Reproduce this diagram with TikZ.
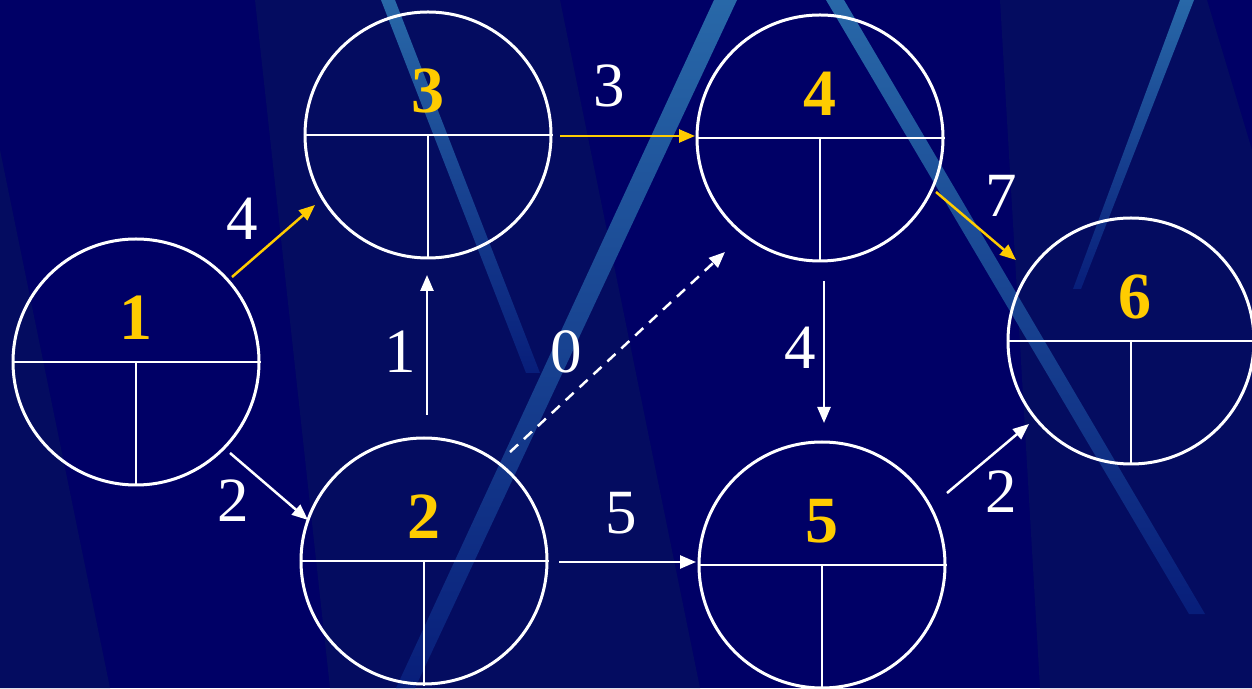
\documentclass[tikz,border=0pt]{standalone}
\usepackage{fontspec}
\setmainfont{Liberation Serif}
\usetikzlibrary{arrows.meta,calc}
\definecolor{navy}{RGB}{0,0,102}
\definecolor{band}{RGB}{4,12,96}
\definecolor{streak}{RGB}{40,104,168}
\definecolor{streakdim}{RGB}{8,30,122}
\definecolor{ylw}{RGB}{255,204,0}
\begin{document}
\begin{tikzpicture}[x=1pt,y=1pt,
  cnode/.style={circle,draw=white,line width=3pt,minimum size=246pt,inner sep=0pt},
  divline/.style={draw=white,line width=2.6pt},
  ylab/.style={text=ylw,font=\fontsize{66}{70}\selectfont\bfseries,anchor=base,inner sep=0pt},
  wlab/.style={text=white,font=\fontsize{63}{70}\selectfont,anchor=base,inner sep=0pt},
  warr/.style={draw=white,line width=2.5pt,-{Triangle[length=16pt,width=13pt]}},
  yarr/.style={warr,draw=ylw,fill=ylw},
  darr/.style={warr,dash pattern=on 11pt off 8pt},
]
\useasboundingbox (0,0) rectangle (1252,688);
% background
\fill[navy] (0,0) rectangle (1252,688);
\fill[band] (255,688) -- (560,688) -- (700,0) -- (330,0) -- cycle;
\fill[band] (0,538) -- (0,0) -- (110,0) -- cycle;
\fill[band] (1000,688) -- (1207,688) -- (1252,538) -- (1252,0) -- (1040,0) -- cycle;
% streaks
\shade[top color=streak,bottom color=streakdim] (381,688) -- (395,688) -- (540,315) -- (526,315) -- cycle;
\shade[top color=streak,middle color=streak,bottom color=streakdim] (714,688) -- (737,688) -- (415,0) -- (396,0) -- cycle;
\shade[top color=streak,bottom color=streakdim] (826,688) -- (844,688) -- (1205,74) -- (1189,74) -- cycle;
\shade[top color=streak,bottom color=streakdim] (1180,688) -- (1194,688) -- (1081,399) -- (1073,399) -- cycle;
% nodes
\node[cnode] (n1) at (136,326) {};
\node[cnode] (n3) at (428,553) {};
\node[cnode] (n4) at (820,550) {};
\node[cnode] (n6) at (1131,347) {};
\node[cnode] (n2) at (424,127) {};
\node[cnode] (n5) at (822,123) {};
\foreach \n in {n1,n2,n3,n4,n5,n6}{
  \draw[divline] (\n.west) -- (\n.east);
  \draw[divline] (\n.center) -- (\n.south);
}
% node numbers
\node[ylab] (t1) at ($(n1)+(0,22)$) {1};
\node[ylab] (t2) at ($(n2)+(0,22)$) {2};
\node[ylab] (t3) at ($(n3)+(0,22)$) {3};
\node[ylab] (t4) at ($(n4)+(0,22)$) {4};
\node[ylab] (t5) at ($(n5)+(0,22)$) {5};
\node[ylab] (t6) at ($(n6)+(4,22)$) {6};
% connectors
\draw[yarr] ($(n1)+(96,85)$) -- ($(n3)+(-113,-70)$);
\draw[warr] ($(n1)+(94,-91)$) -- ($(n2)+(-116,41)$);
\draw[warr] ($(n2)+(3,146)$) -- ($(n3)+(-1,-140)$);
\draw[darr] ($(n2)+(86,109)$) -- ($(n4)+(-95,-114)$);
\draw[yarr] ($(n3)+(132,-1)$) -- ($(n4)+(-125,2)$);
\draw[warr] ($(n2)+(135,-1)$) -- ($(n5)+(-126,3)$);
\draw[warr] ($(n4)+(4,-143)$) -- ($(n5)+(2,142)$);
\draw[yarr] ($(n4)+(116,-54)$) -- ($(n6)+(-115,81)$);
\draw[warr] ($(n5)+(125,72)$) -- ($(n6)+(-102,-83)$);
% durations
\node[wlab] (d13) at (242,448) {4};
\node[wlab] (d12) at (233,166) {2};
\node[wlab] (d23) at (400,315) {1};
\node[wlab] (d24) at (566,315) {0};
\node[wlab] (d34) at (609,581) {3};
\node[wlab] (d25) at (621,154) {5};
\node[wlab] (d45) at (800,319) {4};
\node[wlab] (d46) at (1001,471) {7};
\node[wlab] (d56) at (1001,175) {2};
\end{tikzpicture}
\end{document}
